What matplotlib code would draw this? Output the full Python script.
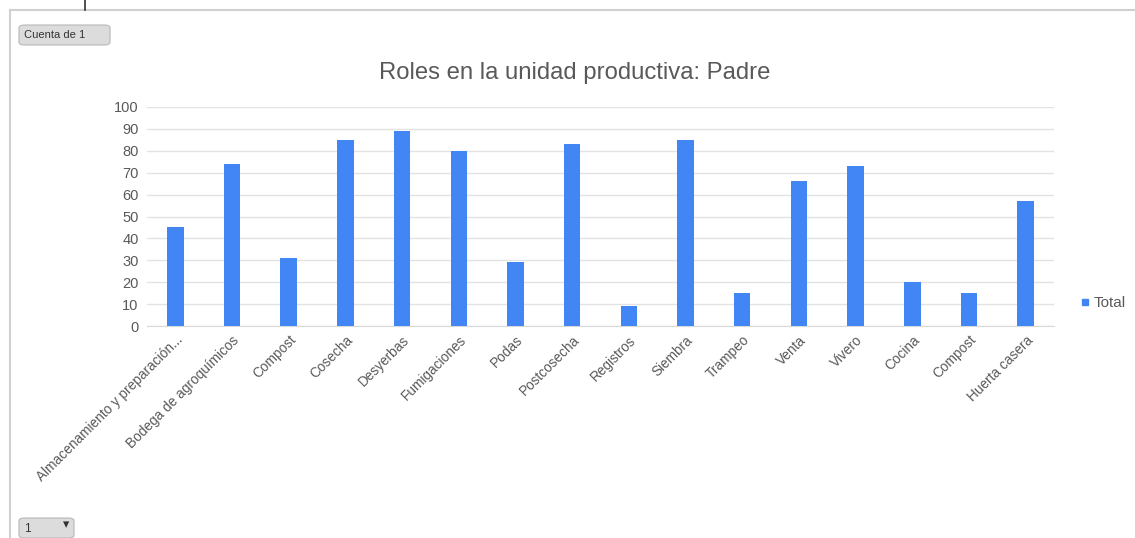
#!/usr/bin/env python3
'''
Bar chart: Roles en la unidad productiva: Padre
'''

import matplotlib.pyplot as plt
from matplotlib.patches import FancyBboxPatch
from matplotlib.lines import Line2D

plt.rcParams['font.family'] = ['Liberation Sans', 'DejaVu Sans']

categorias = ["Almacenamiento y preparación...", "Bodega de agroquímicos", "Compost",
              "Cosecha", "Desyerbas", "Fumigaciones", "Podas", "Postcosecha",
              "Registros", "Siembra", "Trampeo", "Venta", "Vivero", "Cocina",
              "Compost", "Huerta casera"]
totales = [45, 74, 31, 85, 89, 80, 29, 83, 9, 85, 15, 66, 73, 20, 15, 57]
y_ticks = list(range(0, 101, 10))

azul = '#4285F4'
gris_texto = '#595959'

W, H = 1135, 538
fig = plt.figure(figsize=(W / 100, H / 100), dpi=100)

# plot area in pixels: x 147..1054, y 107..326 (from top)
ax = fig.add_axes([147 / W, 1 - 326 / H, (1054 - 147) / W, (326 - 107) / H])
x = list(range(len(categorias)))
ax.bar(x, totales, width=0.29, color=azul, zorder=3)
ax.set_xlim(-0.5, len(categorias) - 0.5)
ax.set_ylim(0, 100)
ax.set_yticks(y_ticks)
ax.set_yticklabels([str(v) for v in y_ticks], fontsize=10.5, color=gris_texto)
ax.set_xticks(x)
ax.set_xticklabels(categorias, rotation=45, ha='right', rotation_mode='anchor',
                   fontsize=9.8, color=gris_texto)
ax.tick_params(axis='y', length=0, pad=6)
ax.tick_params(axis='x', length=0, pad=5)
ax.grid(axis='y', color='#e3e3e3', linewidth=1, zorder=0)
for s in ['top', 'right', 'left']:
    ax.spines[s].set_visible(False)
ax.spines['bottom'].set_color('#d9d9d9')

fig.text(575 / W, 1 - 73 / H, "Roles en la unidad productiva: Padre",
         ha='center', va='center', fontsize=17.2, color=gris_texto)

# legend
leg = ax.legend(handles=[Line2D([], [], marker='s', color=azul, linestyle='',
                                markersize=5, label='Total')],
                loc='center left', bbox_to_anchor=(1071 / W, 1 - 303 / H),
                bbox_transform=fig.transFigure, frameon=False, fontsize=11,
                handletextpad=0.1, borderaxespad=0, handlelength=1)
for t in leg.get_texts():
    t.set_color(gris_texto)

# outer frame of the pivot chart
fig.add_artist(Line2D([10 / W, 10 / W], [0, 1 - 10 / H], color='#d0d0d0',
                      linewidth=1.5, transform=fig.transFigure))
fig.add_artist(Line2D([10 / W, 1], [1 - 10 / H, 1 - 10 / H], color='#d0d0d0',
                      linewidth=1.5, transform=fig.transFigure))
fig.add_artist(Line2D([85 / W, 85 / W], [1 - 10 / H, 1], color='#333333',
                      linewidth=1.2, transform=fig.transFigure))

# pivot field buttons
btn = FancyBboxPatch((19 / W, 1 - 45 / H), 91 / W, 20 / H,
                     boxstyle='round,pad=0,rounding_size=0.005',
                     transform=fig.transFigure, facecolor='#dcdcdc',
                     edgecolor='#b8b8b8', linewidth=0.8)
fig.add_artist(btn)
fig.text(24 / W, 1 - 35 / H, "Cuenta de 1", ha='left', va='center',
         fontsize=8, color='#333333')

btn2 = FancyBboxPatch((19 / W, 1 - 538 / H), 55 / W, 20 / H,
                      boxstyle='round,pad=0,rounding_size=0.005',
                      transform=fig.transFigure, facecolor='#dcdcdc',
                      edgecolor='#b8b8b8', linewidth=0.8)
fig.add_artist(btn2)
fig.text(24 / W, 1 - 529 / H, "1", ha='left', va='center', fontsize=8.5,
         color='#333333')
fig.text(66 / W, 1 - 525 / H, "\u25be", ha='center', va='center', fontsize=9,
         color='#333333')

fig.savefig('out.png', dpi=100)
